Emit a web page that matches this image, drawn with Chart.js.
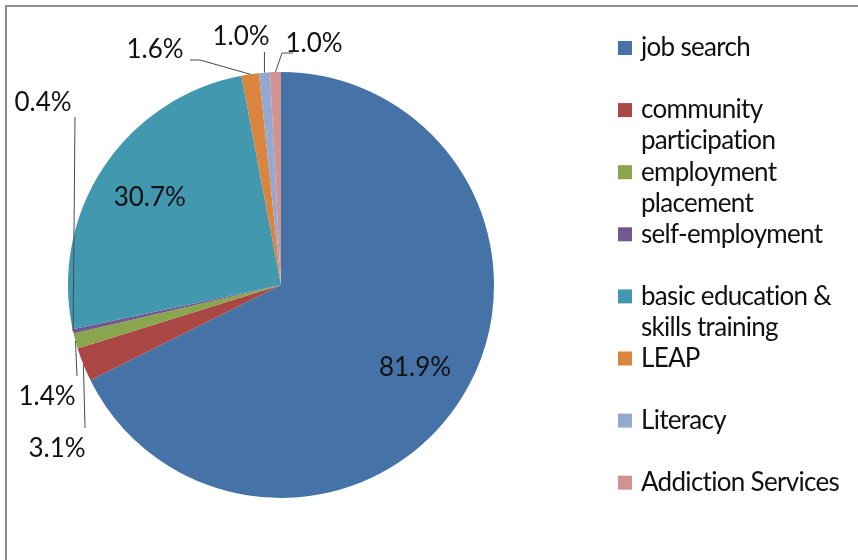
<!DOCTYPE html>
<html>
<head>
<meta charset="utf-8">
<script src="https://cdn.jsdelivr.net/npm/chart.js@4/dist/chart.umd.min.js"></script>
<style>
  html, body { margin: 0; padding: 0; background: #fff; }
  #wrap { position: relative; width: 858px; height: 560px; }
</style>
</head>
<body>
<div id="wrap"><canvas id="programChart"></canvas></div>
<script>
// Program categories and their shares (%)
const categories = [
  'job search',
  ['community', 'participation'],
  ['employment', 'placement'],
  'self-employment',
  ['basic education &', 'skills training'],
  'LEAP',
  'Literacy',
  'Addiction Services'
];
const shares = [81.9, 3.1, 1.4, 0.4, 30.7, 1.6, 1.0, 1.0];
const sliceColors = ['#4572A7', '#AA4643', '#89A54E', '#71588F', '#4198AF', '#DB843D', '#93A9CF', '#D19392'];

const FONT = '26px Lato, "Open Sans", sans-serif';

// Where the small-slice labels sit (offsets from the pie centre) and how the leader bends
const calloutSpots = {
  1: { text: [-224, 164], path: [[-196, 143]] },
  2: { text: [-234, 112], path: [[-204, 91]] },
  3: { text: [-238, -182], path: [[-206, -168]] },
  5: { text: [-126, -235], path: [[-81, -225], [-91, -225]] },
  6: { text: [-40, -248], path: [[null, -233]] },
  7: { text: [33, -241], path: [[1, -232], [12, -232]] }
};

const framePlugin = {
  id: 'frame',
  beforeDraw(chart) {
    const ctx = chart.ctx;
    ctx.save();
    ctx.strokeStyle = '#8e8e8e';
    ctx.lineWidth = 2;
    ctx.beginPath();
    ctx.moveTo(858, 6);
    ctx.lineTo(6, 6);
    ctx.lineTo(6, 560);
    ctx.stroke();
    ctx.restore();
  }
};

const sliceLabels = {
  id: 'sliceLabels',
  afterDatasetsDraw(chart) {
    const ctx = chart.ctx;
    const arcs = chart.getDatasetMeta(0).data;
    ctx.save();
    ctx.font = FONT;
    ctx.fillStyle = '#111';
    ctx.textAlign = 'center';
    ctx.textBaseline = 'middle';
    arcs.forEach((arc, i) => {
      const mid = (arc.startAngle + arc.endAngle) / 2;
      const text = shares[i].toFixed(1) + '%';
      const spot = calloutSpots[i];
      if (!spot) {
        const r = arc.outerRadius * 0.74;
        ctx.fillText(text, arc.x + Math.cos(mid) * r, arc.y + Math.sin(mid) * r);
        return;
      }
      const sx = arc.x + Math.cos(mid) * arc.outerRadius;
      const sy = arc.y + Math.sin(mid) * arc.outerRadius;
      ctx.strokeStyle = '#4a4a4a';
      ctx.lineWidth = 1;
      ctx.beginPath();
      ctx.moveTo(sx, sy);
      spot.path.forEach(p => {
        const px = p[0] === null ? sx : arc.x + p[0];
        ctx.lineTo(px, arc.y + p[1]);
      });
      ctx.stroke();
      ctx.fillText(text, arc.x + spot.text[0], arc.y + spot.text[1]);
    });
    ctx.restore();
  }
};

const sideLegend = {
  id: 'sideLegend',
  afterDraw(chart) {
    const ctx = chart.ctx;
    const colors = chart.data.datasets[0].backgroundColor;
    ctx.save();
    ctx.font = FONT;
    ctx.letterSpacing = '-0.7px';
    ctx.textAlign = 'left';
    ctx.textBaseline = 'middle';
    chart.data.labels.forEach((label, i) => {
      const y = 48 + i * 62.1;
      ctx.fillStyle = colors[i];
      ctx.fillRect(618, y - 7, 14, 14);
      ctx.fillStyle = '#111';
      const lines = Array.isArray(label) ? label : [label];
      lines.forEach((line, j) => ctx.fillText(line, 641, y + j * 31));
    });
    ctx.restore();
  }
};

new Chart(document.getElementById('programChart'), {
  type: 'pie',
  data: {
    labels: categories,
    datasets: [{
      data: shares,
      backgroundColor: sliceColors,
      borderWidth: 0
    }]
  },
  options: {
    responsive: true,
    maintainAspectRatio: false,
    animation: false,
    layout: { padding: { left: 68, right: 364, top: 72, bottom: 62 } },
    plugins: {
      legend: { display: false },
      tooltip: { enabled: false }
    }
  },
  plugins: [framePlugin, sliceLabels, sideLegend]
});
</script>
</body>
</html>
